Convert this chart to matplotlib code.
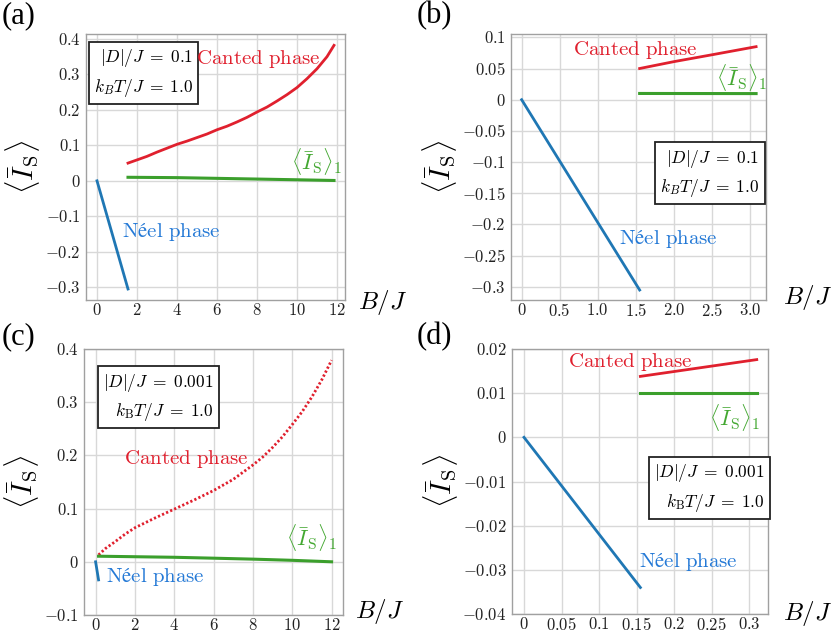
import numpy as np
import matplotlib
matplotlib.use("Agg")
import matplotlib.pyplot as plt
from matplotlib.ticker import FuncFormatter, FixedLocator

plt.rcParams["mathtext.fontset"] = "cm"
plt.rcParams["font.family"] = "Liberation Serif"

# panel (a): |D|/J = 0.1
a_neel_x = [0.0, 1.55]
a_neel_y = [0.0, -0.305]
a_cant_x = [1.55, 2, 2.5, 3, 3.5, 4, 4.5, 5, 5.5, 6, 6.5, 7, 7.5, 8, 8.5, 9, 9.5, 10, 10.5, 11, 11.5, 11.85]
a_cant_y = [0.050, 0.059, 0.069, 0.081, 0.092, 0.103, 0.112, 0.122, 0.132, 0.144, 0.154, 0.166,
            0.179, 0.194, 0.208, 0.225, 0.243, 0.263, 0.288, 0.316, 0.350, 0.382]
a_one_x = [1.55, 4, 6, 8, 10, 11.85]
a_one_y = [0.010, 0.009, 0.007, 0.005, 0.003, 0.001]

# panel (b): zoom of (a)
b_neel_x = [0.0, 1.55]
b_neel_y = [0.0, -0.305]
b_cant_x = [1.55, 2.0, 2.5, 3.08]
b_cant_y = [0.050, 0.061, 0.072, 0.085]
b_one_x = [1.55, 3.08]
b_one_y = [0.0100, 0.0098]

# panel (c): |D|/J = 0.001
c_neel_x = [0.0, 0.15]
c_neel_y = [0.0, -0.034]
c_cant_x = [0.15, 0.5, 1, 1.5, 2, 3, 4, 5, 6, 7, 8, 8.5, 9, 9.5, 10, 10.5, 11, 11.5, 12]
c_cant_y = [0.013, 0.025, 0.038, 0.052, 0.064, 0.082, 0.099, 0.116, 0.134, 0.155, 0.182,
            0.197, 0.215, 0.235, 0.258, 0.282, 0.310, 0.342, 0.379]
c_one_x = [0.15, 4, 6, 8, 10, 12]
c_one_y = [0.0105, 0.0085, 0.0068, 0.0050, 0.0028, 0.0]

# panel (d): zoom of (c)
d_neel_x = [0.0, 0.155]
d_neel_y = [0.0, -0.034]
d_cant_x = [0.155, 0.31]
d_cant_y = [0.0138, 0.0176]
d_one_x = [0.155, 0.31]
d_one_y = [0.0100, 0.0100]

a_xticks = [0, 2, 4, 6, 8, 10, 12]
a_yticks = [-0.3, -0.2, -0.1, 0, 0.1, 0.2, 0.3, 0.4]
b_xticks = [0, 0.5, 1.0, 1.5, 2.0, 2.5, 3.0]
b_xlabels = ["0", "0.5", "1.0", "1.5", "2.0", "2.5", "3.0"]
b_yticks = [-0.3, -0.25, -0.2, -0.15, -0.1, -0.05, 0, 0.05, 0.1]
c_xticks = [0, 2, 4, 6, 8, 10, 12]
c_yticks = [-0.1, 0, 0.1, 0.2, 0.3, 0.4]
d_xticks = [0, 0.05, 0.1, 0.15, 0.2, 0.25, 0.3]
d_yticks = [-0.04, -0.03, -0.02, -0.01, 0, 0.01, 0.02]

RED = "#e0202e"
GREEN = "#3b9f2c"
BLUE = "#1f77b4"
BLUE_TXT = "#2479d6"
GREEN_TXT = "#44a832"

W, H = 831, 633
fig = plt.figure(figsize=(W / 100, H / 100), dpi=100)


def add_ax(l, r, t, b):
    return fig.add_axes([l / W, 1 - b / H, (r - l) / W, (b - t) / H])


def mfmt(v, pos):
    s = "%g" % v
    if s == "-0":
        s = "0"
    return "$" + s + "$"


def style(ax, xt, yt, xlim, ylim, xlabels=None):
    ax.set_xlim(*xlim)
    ax.set_ylim(*ylim)
    ax.xaxis.set_major_locator(FixedLocator(xt))
    ax.yaxis.set_major_locator(FixedLocator(yt))
    if xlabels is None:
        ax.xaxis.set_major_formatter(FuncFormatter(mfmt))
    else:
        ax.set_xticklabels(["$" + s + "$" for s in xlabels])
    ax.yaxis.set_major_formatter(FuncFormatter(mfmt))
    ax.grid(True, color="#d8d8d8", lw=1.0)
    ax.set_axisbelow(True)
    for sp in ax.spines.values():
        sp.set_color("#a0a0a0")
        sp.set_linewidth(1.0)
    ax.tick_params(length=0, labelsize=12, colors="#222222")
    ax.tick_params(axis="x", pad=2)
    ax.tick_params(axis="y", pad=4)
    ax.set_ylabel(r"$\langle \bar{I}_{\mathrm{S}} \rangle$", fontsize=21, labelpad=2)


one_lab = r"$\langle \bar{I}_{\mathrm{S}} \rangle_1$"
cant_lab = r"$\mathrm{Canted\ phase}$"
neel_lab = r"$\mathrm{Néel\ phase}$"
box = dict(boxstyle="square,pad=0.3", fc="white", ec="#222222", lw=1.3)
box_a = r"$|D|/J\;=\;0.1$" + "\n" + r"$k_BT/J\;=\;1.0$"
box_c = r"$|D|/J\;=\;0.001$" + "\n" + r"$k_{\mathrm{B}}T/J\;=\;1.0$"

# (a)
ax = add_ax(86, 345, 34, 300)
ax.plot(a_neel_x, a_neel_y, color=BLUE, lw=2)
ax.plot(a_cant_x, a_cant_y, color=RED, lw=2)
ax.plot(a_one_x, a_one_y, color=GREEN, lw=2.2)
style(ax, a_xticks, a_yticks, (-0.55, 12.4), (-0.336, 0.414))
ax.text(0.03, 0.853, box_a, transform=ax.transAxes, fontsize=12.5, ha="left", va="center",
        multialignment="right", bbox=box, linespacing=1.5)
ax.text(0.425, 0.905, cant_lab, transform=ax.transAxes, color=RED, fontsize=15, ha="left", va="center")
ax.text(0.79, 0.52, one_lab, transform=ax.transAxes, color=GREEN_TXT, fontsize=16, ha="left", va="center")
ax.text(0.14, 0.255, neel_lab, transform=ax.transAxes, color=BLUE_TXT, fontsize=15, ha="left", va="center")
fig.text(358 / W, 1 - 303 / H, r"$B/J$", fontsize=18, ha="left", va="center")
fig.text(2 / W, 1 - 16 / H, "(a)", fontsize=22, ha="left", va="center")

# (b)
ax = add_ax(511, 766, 34, 300)
ax.plot(b_neel_x, b_neel_y, color=BLUE, lw=2)
ax.plot(b_cant_x, b_cant_y, color=RED, lw=2)
ax.plot(b_one_x, b_one_y, color=GREEN, lw=2.2)
style(ax, b_xticks, b_yticks, (-0.14, 3.21), (-0.321, 0.1053), xlabels=b_xlabels)
ax.text(0.585, 0.476, box_a, transform=ax.transAxes, fontsize=12.5, ha="left", va="center",
        multialignment="right", bbox=box, linespacing=1.5)
ax.text(0.245, 0.94, cant_lab, transform=ax.transAxes, color=RED, fontsize=15, ha="left", va="center")
ax.text(0.805, 0.835, one_lab, transform=ax.transAxes, color=GREEN_TXT, fontsize=16, ha="left", va="center")
ax.text(0.425, 0.23, neel_lab, transform=ax.transAxes, color=BLUE_TXT, fontsize=15, ha="left", va="center")
fig.text(783 / W, 1 - 297 / H, r"$B/J$", fontsize=18, ha="left", va="center")
fig.text(417 / W, 1 - 16 / H, "(b)", fontsize=22, ha="left", va="center")

# (c)
ax = add_ax(84, 343, 349, 615)
ax.plot(c_neel_x, c_neel_y, color=BLUE, lw=2)
ax.plot(c_cant_x, c_cant_y, color=RED, lw=2, ls=(0, (0.8, 0.8)))
ax.plot(c_one_x, c_one_y, color=GREEN, lw=2.2)
style(ax, c_xticks, c_yticks, (-0.59, 12.58), (-0.1, 0.4))
ax.text(0.075, 0.818, box_c, transform=ax.transAxes, fontsize=12.5, ha="left", va="center",
        multialignment="right", bbox=box, linespacing=1.5)
ax.text(0.155, 0.586, cant_lab, transform=ax.transAxes, color=RED, fontsize=15, ha="left", va="center")
ax.text(0.78, 0.29, one_lab, transform=ax.transAxes, color=GREEN_TXT, fontsize=16, ha="left", va="center")
ax.text(0.085, 0.143, neel_lab, transform=ax.transAxes, color=BLUE_TXT, fontsize=15, ha="left", va="center")
fig.text(355 / W, 1 - 612 / H, r"$B/J$", fontsize=18, ha="left", va="center")
fig.text(2 / W, 1 - 337 / H, "(c)", fontsize=22, ha="left", va="center")

# (d)
ax = add_ax(512, 768, 349, 614)
ax.plot(d_neel_x, d_neel_y, color=BLUE, lw=2)
ax.plot(d_cant_x, d_cant_y, color=RED, lw=2)
ax.plot(d_one_x, d_one_y, color=GREEN, lw=2.2)
style(ax, d_xticks, d_yticks, (-0.016, 0.325), (-0.04, 0.02))
ax.text(0.555, 0.475, box_c, transform=ax.transAxes, fontsize=12.5, ha="left", va="center",
        multialignment="right", bbox=box, linespacing=1.5)
ax.text(0.22, 0.95, cant_lab, transform=ax.transAxes, color=RED, fontsize=15, ha="left", va="center")
ax.text(0.77, 0.743, one_lab, transform=ax.transAxes, color=GREEN_TXT, fontsize=16, ha="left", va="center")
ax.text(0.495, 0.196, neel_lab, transform=ax.transAxes, color=BLUE_TXT, fontsize=15, ha="left", va="center")
fig.text(783 / W, 1 - 613 / H, r"$B/J$", fontsize=18, ha="left", va="center")
fig.text(417 / W, 1 - 337 / H, "(d)", fontsize=22, ha="left", va="center")

fig.savefig("out.png", dpi=100)
